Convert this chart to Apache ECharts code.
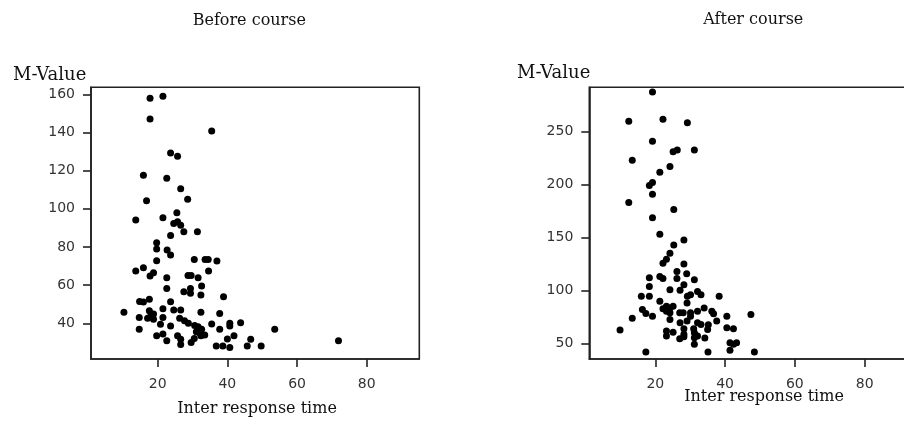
<!DOCTYPE html>
<html>
<head>
<meta charset="utf-8">
<script src="https://cdn.jsdelivr.net/npm/echarts@6/dist/echarts.min.js"></script>
<style>html,body{margin:0;padding:0;background:#fff}#c{width:904px;height:421px}</style>
</head>
<body>
<div id="c"></div>
<script>
var titles = ['Before course', 'After course'];
var yName = 'M-Value';
var xName = 'Inter response time';
var xTicks = [20, 40, 60, 80];
var yTicksBefore = [40, 60, 80, 100, 120, 140, 160];
var yTicksAfter = [50, 100, 150, 200, 250];

var beforeX = [17.8,21.5,17.8,35.5,23.7,25.7,15.9,22.6,26.6,16.8,28.6,13.7,21.5,25.5,24.6,25.7,26.6,23.7,27.5,31.4,
  19.7,19.7,22.7,23.7,19.7,30.5,33.6,34.5,37.0,13.7,15.9,17.8,18.8,22.6,28.7,29.6,31.6,34.6,22.6,27.5,
  29.4,29.4,32.6,32.4,38.9,14.8,15.9,17.6,23.7,10.3,14.7,17.6,18.1,18.8,17.1,18.8,21.5,21.5,24.6,26.6,
  32.4,37.8,14.7,20.8,23.7,26.3,27.7,28.8,30.6,31.6,32.6,31.1,32.0,35.5,37.8,40.7,40.7,43.8,19.7,21.5,
  22.6,25.7,26.6,26.6,29.6,30.5,32.4,33.5,36.8,38.7,40.7,40.0,41.9,45.7,46.7,49.7,53.6,71.9];
var beforeY = [157.9,159.0,147.1,140.8,129.3,127.6,117.6,116.0,110.5,104.2,105.0,94.2,95.3,97.9,92.3,93.2,91.4,86.0,88.0,88.0,
  82.2,78.9,78.4,75.8,72.8,73.5,73.5,73.5,72.6,67.4,69.1,64.8,66.5,63.9,65.0,65.0,63.9,67.4,58.3,56.6,
  58.3,55.7,59.5,54.8,53.9,51.5,51.2,52.6,51.3,45.8,43.1,46.6,44.4,44.9,42.6,42.1,47.7,43.1,47.0,47.0,
  45.8,45.2,36.9,39.5,38.6,42.6,41.4,40.0,38.9,38.2,36.9,35.6,35.1,39.6,36.9,40.0,38.6,40.3,33.5,34.4,
  30.8,33.5,31.6,28.9,29.9,32.0,33.5,33.9,28.1,28.1,27.3,31.8,33.5,28.1,31.6,28.1,36.9,30.8];

var afterX = [19.2,12.4,22.2,29.2,19.2,13.4,25.1,26.3,31.2,24.2,21.3,18.3,19.2,19.2,12.4,25.3,19.2,21.3,28.2,25.3,
  24.2,23.2,22.2,28.2,26.2,29.0,18.3,21.3,22.2,26.2,31.2,18.3,24.2,27.1,28.2,32.1,33.1,16.0,18.3,29.2,
  30.1,38.3,21.3,29.1,23.2,24.2,25.1,16.3,17.3,19.2,13.4,22.2,23.2,24.2,27.0,28.0,30.1,30.1,32.1,34.0,
  36.2,36.7,24.2,27.1,29.1,32.1,33.1,35.2,37.6,40.5,47.4,9.9,23.2,25.1,23.2,28.2,28.2,31.0,31.2,31.2,
  32.1,35.0,34.2,31.2,40.5,42.4,41.4,42.4,43.3,41.4,17.3,35.1,48.4,28.2,27.0];
var afterY = [287.6,260.0,261.9,258.5,240.9,223.1,231.2,232.8,232.8,217.1,211.8,199.3,202.1,190.8,183.0,176.4,168.6,153.0,147.7,143.0,
  135.1,129.5,125.7,125.1,117.9,115.7,112.0,113.2,111.3,111.3,110.1,103.8,100.7,100.1,105.4,99.1,96.0,94.4,94.4,94.4,
  96.0,94.4,89.7,88.2,85.1,83.5,85.1,81.9,78.2,75.7,73.8,82.6,80.4,78.8,78.8,78.8,78.8,75.7,80.4,83.5,
  80.4,77.9,72.5,69.4,71.0,69.4,67.8,67.5,71.0,75.7,77.2,62.5,61.6,60.6,56.9,63.8,56.3,63.8,60.0,55.3,
  56.9,63.2,55.0,49.1,64.7,63.8,50.6,49.1,50.6,43.4,41.9,41.9,41.9,58.5,54.4];

function pairs(xs, ys) { return xs.map(function (x, i) { return [x, ys[i]]; }); }

var serif = 'DejaVu Serif';
var sans = 'DejaVu Sans';
var lineCol = '#222';

function xAxisOf(gi, min, max) {
  return {
    type: 'value', gridIndex: gi, min: min, max: max,
    splitLine: { show: false },
    axisLine: { show: true, onZero: false, lineStyle: { color: lineCol, width: 1.6 } },
    axisTick: { show: true, length: 8, customValues: xTicks, lineStyle: { color: lineCol, width: 1.6 } },
    axisLabel: { customValues: xTicks, margin: 18, color: '#333', fontFamily: sans, fontSize: 14 }
  };
}
function yAxisOf(gi, min, max, ticks) {
  return {
    type: 'value', gridIndex: gi, min: min, max: max,
    splitLine: { show: false },
    axisLine: { show: true, onZero: false, lineStyle: { color: lineCol, width: 1.6 } },
    axisTick: { show: true, length: 8, customValues: ticks, lineStyle: { color: lineCol, width: 1.6 } },
    axisLabel: { customValues: ticks, margin: 16, color: '#333', fontFamily: sans, fontSize: 14 }
  };
}
function txt(t, x, y, size, align) {
  return { type: 'text', silent: true, style: { text: t, x: x, y: y, fill: '#111',
    font: size + 'px "' + serif + '"', textAlign: align, textVerticalAlign: 'middle' } };
}

var chart = echarts.init(document.getElementById('c'), null, { renderer: 'canvas' });
chart.setOption({
  animation: false,
  backgroundColor: '#fff',
  grid: [
    { left: 91, top: 87.3, width: 328.3, height: 271.7, outerBoundsMode: 'none', containLabel: false, show: true, borderColor: lineCol, borderWidth: 1.6, backgroundColor: 'transparent' },
    { left: 589.3, top: 87.3, width: 327.7, height: 271.7, outerBoundsMode: 'none', containLabel: false, show: true, borderColor: lineCol, borderWidth: 1.6, backgroundColor: 'transparent' }
  ],
  xAxis: [xAxisOf(0, 0.85, 95.1), xAxisOf(1, 1.09, 95)],
  yAxis: [yAxisOf(0, 21.3, 163.7, yTicksBefore), yAxisOf(1, 35.2, 292, yTicksAfter)],
  series: [
    { type: 'scatter', xAxisIndex: 0, yAxisIndex: 0, data: pairs(beforeX, beforeY), symbol: 'circle', symbolSize: 7, itemStyle: { color: '#000', opacity: 1 } },
    { type: 'scatter', xAxisIndex: 1, yAxisIndex: 1, data: pairs(afterX, afterY), symbol: 'circle', symbolSize: 7, itemStyle: { color: '#000', opacity: 1 } }
  ],
  graphic: [
    txt(titles[0], 249.3, 21, 16, 'center'),
    txt(titles[1], 753.3, 20, 16, 'center'),
    txt(yName, 13, 75, 18, 'left'),
    txt(yName, 517, 73, 18, 'left'),
    txt(xName, 257, 409, 16, 'center'),
    txt(xName, 764, 397, 16, 'center')
  ]
});
</script>
</body>
</html>
